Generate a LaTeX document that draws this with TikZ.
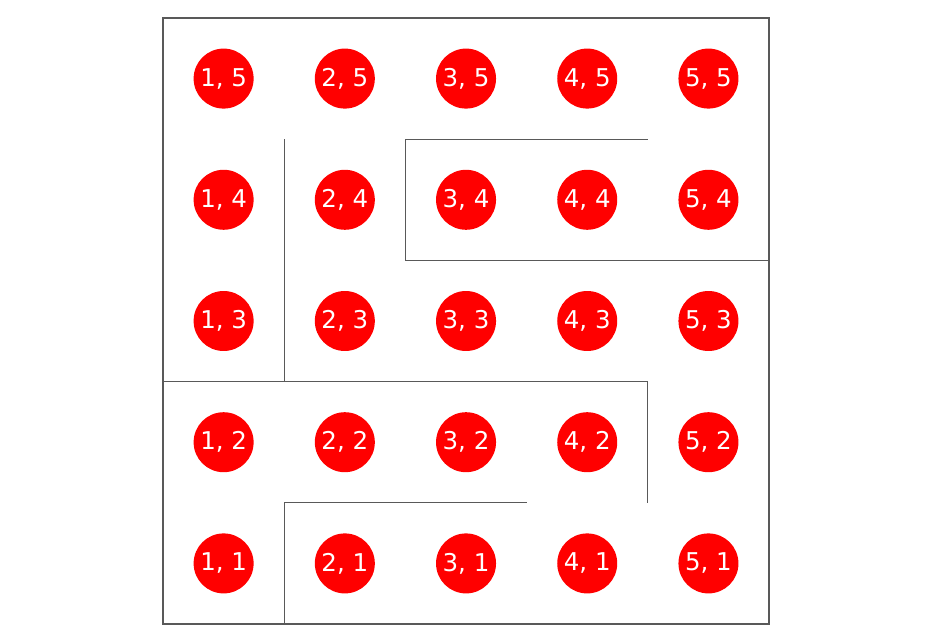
\documentclass[tikz,border=0pt]{standalone}
\usepackage{fontspec}
\setsansfont{DejaVu Sans}
\usepackage{tikz}

\begin{document}
\begin{tikzpicture}[x=2cm,y=2cm,
		cell node/.style={circle,fill=red,inner sep=0pt,minimum size=0.99cm,text=white,font=\sffamily\fontsize{11.5}{12}\selectfont},
		wall/.style={draw=black!65,line width=0.6pt}]

		\useasboundingbox (-1.345,-0.157) rectangle (6.328,5.1485);

		% frame
		\draw[wall] (0,0) rectangle (5,5);

		% states
		\foreach \i in {1,...,5}
			\foreach \j in {1,...,5}
				\node[cell node] (c\i\j) at (\i-0.5,\j-0.5) {\i, \j};

		% maze walls
		\draw[wall] (1,4) -- (1,2);
		\draw[wall] (0,2) -- (4,2) -- (4,1);
		\draw[wall] (4,4) -- (2,4) -- (2,3) -- (5,3);
		\draw[wall] (3,1) -- (1,1) -- (1,0);
\end{tikzpicture}
\end{document}
